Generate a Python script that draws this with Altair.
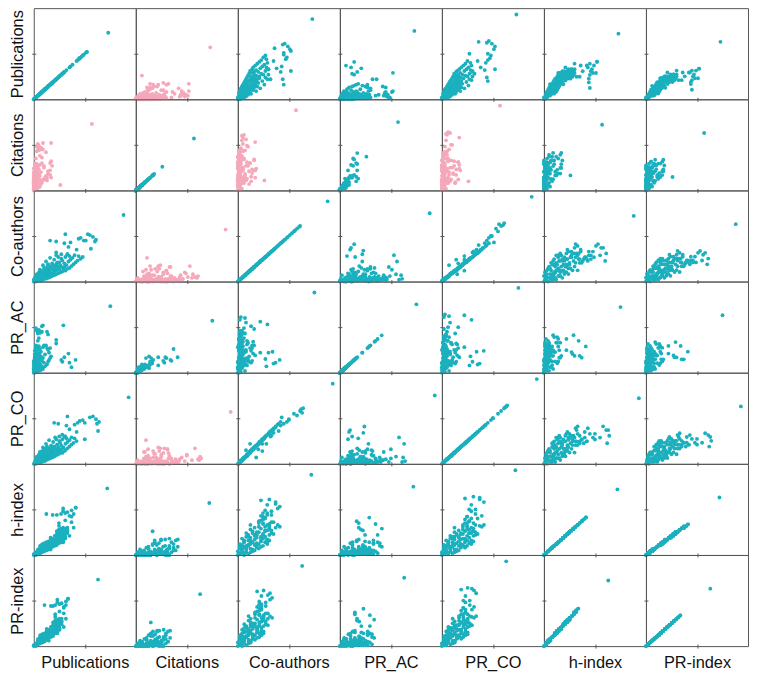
import altair as alt
import pandas as pd

labels = ["Publications", "Citations", "Co-authors", "PR_AC", "PR_CO", "h-index", "PR-index"]
fields = ["pub", "cit", "coa", "prac", "prco", "h", "pr"]
domain_max = [100, 100, 100, 100, 100, 48.6, 47.6]

# values in % of axis range (first five), integer units for h-index / PR-index
publications = [0,0,1,1,1,2,2,2,3,3,3,3,4,4,4,4,5,5,5,5,6,6,6,6,6,7,7,7,7,7,8,8,8,8,8,9,9,9,9,9,
                10,10,10,10,11,11,11,11,12,12,12,12,13,13,13,13,14,14,14,14,15,15,15,15,16,16,16,16,17,17,17,18,18,18,18,19,19,19,20,20,
                21,21,22,22,23,23,24,24,25,25,26,26,27,27,28,28,29,29,30,30,
                6,14,17,14,11,12,21,32,52,36,27,45,46,51,45,43,47,49,44,30,52,35,42,38,48,45,44,
                73]
citations = [0,1,0,2,0,1,3,0,1,0,4,1,2,0,1,6,1,0,2,3,1,0,5,1,2,0,3,1,2,7,0,2,1,4,1,3,0,1,2,8,
             1,2,0,4,1,3,0,6,1,2,9,0,2,1,5,0,3,1,11,2,1,4,0,2,6,1,3,12,2,0,5,1,3,14,2,1,4,2,0,7,
             1,3,2,16,1,5,2,0,3,10,1,4,2,18,1,6,3,2,1,8,
             26,17,16,13,13,11,14,17,17,8,10,5,6,4,9,3,7,5,4,16,9,2,12,6,3,7,5,
             57]
coauthors = [0,2,4,1,7,3,9,0,6,12,2,10,5,14,1,8,3,11,16,7,2,13,9,18,5,10,15,4,20,12,6,17,22,9,3,14,24,8,19,11,
             5,16,26,12,20,9,28,15,7,22,13,31,18,11,25,6,29,14,21,33,10,24,17,35,13,27,20,30,16,37,23,9,32,19,26,39,14,22,30,18,
             41,25,12,34,28,43,20,36,46,27,16,38,31,24,44,35,22,40,33,27,
             11,14,22,15,10,7,23,22,53,56,48,51,61,55,49,36,44,58,60,33,31,42,30,34,46,16,22,
             88]
pr_ac = [0,1,0,3,1,2,5,1,1,0,7,2,3,1,2,9,1,0,4,5,2,1,8,2,4,1,6,1,3,11,0,3,2,7,2,5,1,2,4,13,
         1,3,1,6,2,5,0,10,2,4,14,1,3,1,8,0,5,2,15,3,1,6,1,3,9,2,5,16,3,1,8,2,4,17,3,2,6,4,1,11,
         2,5,3,15,2,7,3,1,4,14,2,6,3,13,2,9,5,3,2,12,
         37,41,30,27,35,28,34,22,29,22,16,13,3,8,6,4,5,2,7,10,9,4,14,5,2,8,6,
         75]
pr_co = [0,2,3,1,6,3,8,1,5,11,2,9,5,12,2,8,4,10,14,6,2,12,9,16,5,9,13,4,18,11,6,15,20,9,3,13,21,8,17,10,
         5,15,23,11,18,9,25,14,7,20,12,28,16,10,23,6,26,13,19,30,10,22,16,31,12,24,18,27,15,33,21,9,29,17,24,35,13,20,27,17,
         37,23,12,31,26,39,19,33,42,25,15,35,28,22,40,32,21,37,30,25,
         10,24,12,8,9,18,23,28,58,63,50,43,64,55,50,40,45,61,62,31,33,42,32,35,48,20,24,
         93]
h_index = [0,1,0,1,1,2,1,3,2,1,3,4,2,3,5,2,4,2,5,6,3,6,4,2,7,5,3,7,4,6,4,8,5,3,6,7,4,9,6,5,
           8,3,7,10,5,9,6,11,4,8,6,10,12,5,9,7,11,13,8,6,12,7,14,10,9,13,11,8,14,10,12,11,15,9,13,12,14,8,15,11,
           13,10,14,12,15,11,13,16,12,14,15,11,13,16,14,12,15,13,14,16,
           8,14,9,11,9,10,17,12,20,18,16,19,15,14,13,17,16,18,11,19,20,12,18,15,14,6,9,
           35]
pr_index = [0,1,0,1,1,1,1,2,2,1,2,3,2,2,4,2,3,2,4,5,2,5,3,2,5,4,3,6,3,5,3,6,4,2,5,6,3,7,5,4,
            6,3,6,8,4,7,5,9,3,6,5,8,9,4,7,6,9,10,7,5,10,6,11,8,7,11,9,6,11,8,10,9,12,7,10,10,12,6,12,9,
            11,8,11,10,12,9,11,13,10,11,12,9,11,13,11,10,12,11,12,13,
            7,11,8,9,7,8,14,10,16,14,13,15,12,11,10,14,13,15,9,15,16,10,14,12,11,5,8,
            30]

df = pd.DataFrame({
    "pub": publications, "cit": citations, "coa": coauthors, "prac": pr_ac,
    "prco": pr_co, "h": h_index, "pr": pr_index,
})

TEAL = "#1BB0BE"
PINK = "#F5A8BA"
pink_pairs = [{"cit", "pub"}, {"cit", "coa"}, {"cit", "prco"}]
FONT = "Liberation Sans"


def panel(r, c):
    xf, yf = fields[r], fields[c]
    color = PINK if {xf, yf} in pink_pairs else TEAL
    x_kwargs = dict(values=[domain_max[r] / 2], labels=False, domain=False, grid=False,
                    ticks=True, tickSize=4, tickColor="#555555", offset=-2, titlePadding=6)
    y_kwargs = dict(values=[domain_max[c] / 2], labels=False, domain=False, grid=False,
                    ticks=True, tickSize=4, tickColor="#555555", offset=-2, titlePadding=6)
    x_kwargs["title"] = labels[c] if r == 6 else None
    y_kwargs["title"] = labels[r] if c == 0 else None
    return alt.Chart(df).mark_circle(size=15, color=color, opacity=1).encode(
        x=alt.X(f"{xf}:Q", scale=alt.Scale(domain=[0, domain_max[r]], nice=False, zero=True),
                axis=alt.Axis(**x_kwargs)),
        y=alt.Y(f"{yf}:Q", scale=alt.Scale(domain=[0, domain_max[c]], nice=False, zero=True),
                axis=alt.Axis(**y_kwargs)),
    ).properties(width=103, height=92)


panels = [panel(r, c) for r in range(7) for c in range(7)]
chart = alt.concat(*panels, columns=7, spacing=0, bounds="flush").properties(
    padding={"left": 0, "top": -4, "right": 0, "bottom": 0}
).configure_view(
    stroke="#555555", strokeWidth=1
).configure_axis(
    titleFont=FONT, titleFontSize=16.5, titleFontWeight="normal", titleColor="#111111"
)

chart.save("out.html", embed_options={"renderer": "svg", "actions": False})
